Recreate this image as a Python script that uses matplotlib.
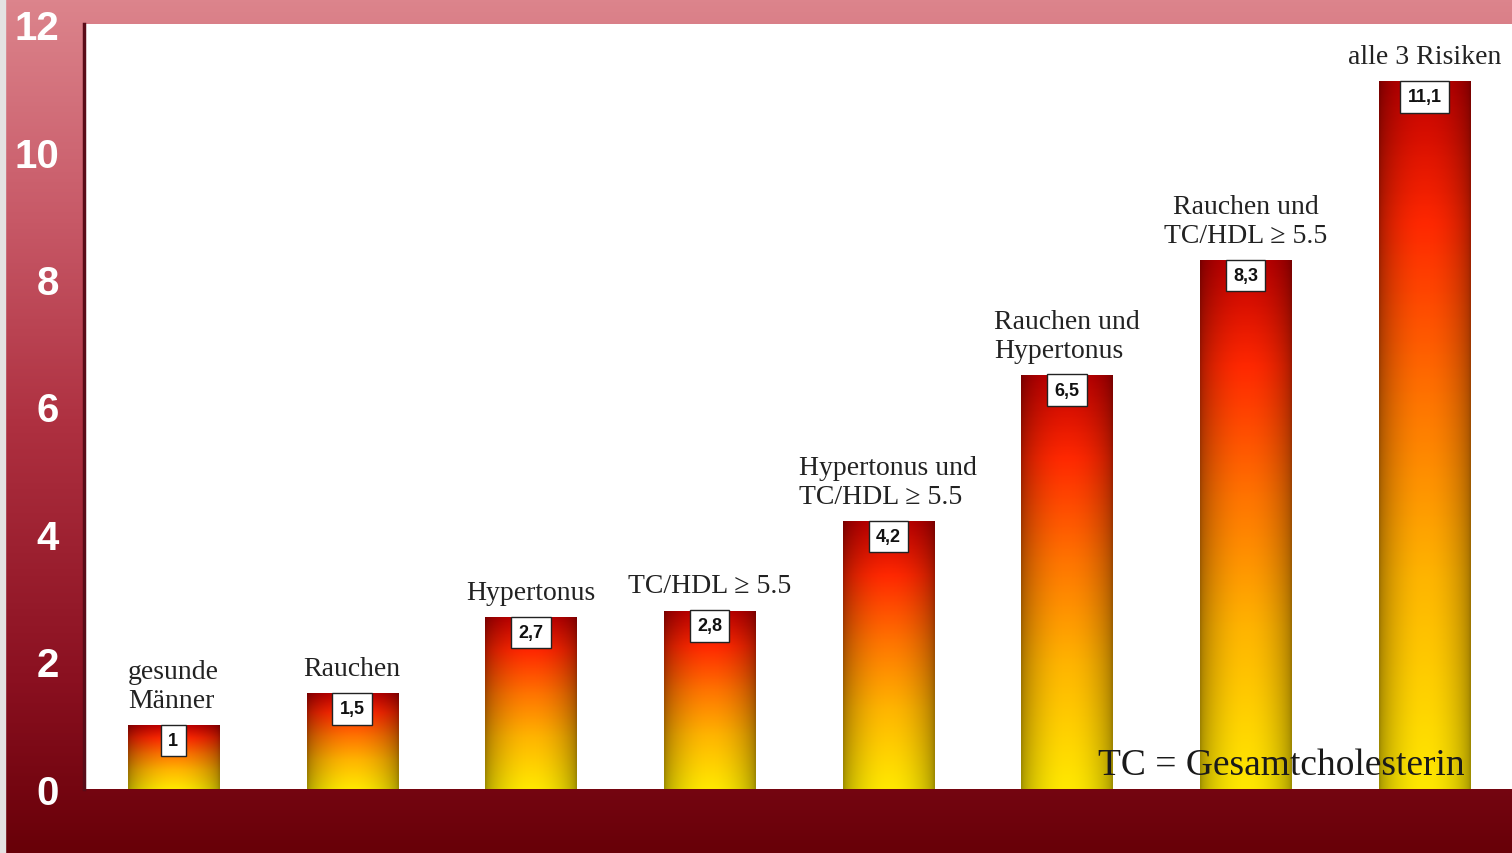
import numpy as np
import matplotlib
matplotlib.use("Agg")
import matplotlib.pyplot as plt
from matplotlib.colors import LinearSegmentedColormap

# data
categories = ["gesunde\nMänner", "Rauchen", "Hypertonus", "TC/HDL ≥ 5.5",
              "Hypertonus und\nTC/HDL ≥ 5.5", "Rauchen und\nHypertonus",
              "Rauchen und\nTC/HDL ≥ 5.5", "alle 3 Risiken"]
values = [1.0, 1.5, 2.7, 2.8, 4.2, 6.5, 8.3, 11.1]
value_labels = ["1", "1,5", "2,7", "2,8", "4,2", "6,5", "8,3", "11,1"]
label_align = ["left", "left", "left", "left", "left", "left", "center", "left"]
yticks = [0, 2, 4, 6, 8, 10, 12]

W, H = 1512, 854
fig = plt.figure(figsize=(W / 100, H / 100), dpi=100)

# figure background: pink at top fading to dark red at bottom
bg = fig.add_axes([0, 0, 1, 1], zorder=-10)
bg_cmap = LinearSegmentedColormap.from_list(
    "bg", [(0.0, "#dc848c"), (0.25, "#c85a68"), (0.5, "#ae3040"),
           (0.8, "#8a1020"), (1.0, "#680008")])
bg.imshow(np.linspace(0, 1, 256).reshape(-1, 1), aspect="auto", cmap=bg_cmap,
          extent=(0, 1, 0, 1), origin="upper")
bg.add_patch(plt.Rectangle((0, 0), 5 / W, 1, color="#e4e2e2"))
bg.set_xlim(0, 1)
bg.set_ylim(0, 1)
bg.axis("off")

ax = fig.add_axes([84 / W, 64 / H, 1 - 84 / W, 765 / H])
ax.set_facecolor("white")

bar_cmap = LinearSegmentedColormap.from_list(
    "bar", [(0.0, "#ffe800"), (0.3, "#ffb400"), (0.55, "#ff7400"),
            (0.8, "#ff2800"), (1.0, "#c00000")])

x = np.arange(len(values))
bars = ax.bar(x, values, width=0.51, color="none", edgecolor="none", zorder=2)

# cylinder-like shading: vertical colour ramp times a horizontal darkening
ny, nx = 200, 60
vert = np.linspace(0, 1, ny)[::-1]
horiz = 0.62 + 0.38 * np.sin(np.linspace(0, np.pi, nx)) ** 0.6
rgb = bar_cmap(vert)[:, None, :3] * horiz[None, :, None]

for b in bars:
    x0, w, h = b.get_x(), b.get_width(), b.get_height()
    im = ax.imshow(rgb, extent=(x0, x0 + w, 0, h), aspect="auto",
                   origin="upper", zorder=2, interpolation="bilinear")
    im.set_clip_path(b)

for xi, v, lab in zip(x, values, value_labels):
    ax.annotate(lab, (xi, v), xytext=(0, -5), textcoords="offset points",
                ha="center", va="top", fontsize=13, fontweight="bold",
                family="Liberation Sans", color="#111111", zorder=4,
                bbox=dict(boxstyle="square,pad=0.4", fc="white",
                          ec="#222222", lw=1.0))

for xi, v, cat, al in zip(x, values, categories, label_align):
    ax.annotate(cat, (xi, v), xytext=(0, 13), textcoords="offset points",
                ha="center", va="baseline", multialignment=al,
                fontsize=20, family="Liberation Serif", color="#222222",
                linespacing=1.2, zorder=4)

ax.text(0.967, 0.02, "TC = Gesamtcholesterin", transform=ax.transAxes,
        ha="right", va="baseline", fontsize=27, family="Liberation Serif",
        color="#1a1a1a", zorder=5)

ax.set_xlim(-0.5, 7.49)
ax.set_ylim(0, 12)
ax.set_yticks(yticks)
ax.set_yticklabels([str(t) for t in yticks], fontsize=29, fontweight="bold",
                   family="Liberation Sans", color="white")
ax.tick_params(axis="y", length=0, pad=18)
ax.set_xticks([])

for side in ["top", "right", "bottom"]:
    ax.spines[side].set_visible(False)
ax.spines["left"].set_color("#5a0c18")
ax.spines["left"].set_linewidth(2.5)

fig.savefig("out.png", dpi=100)
